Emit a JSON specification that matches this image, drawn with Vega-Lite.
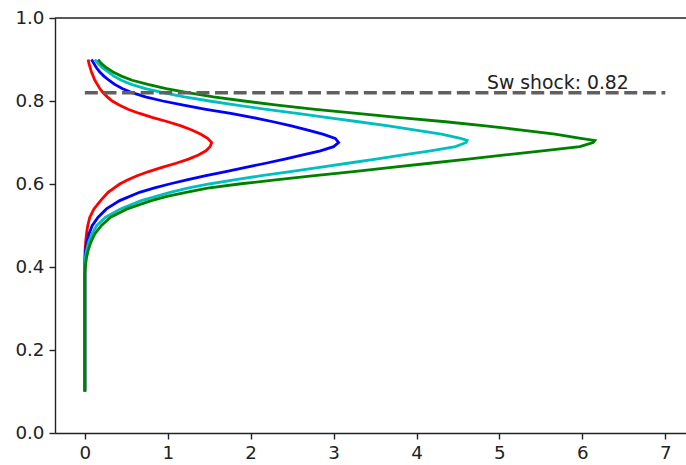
{
  "$schema": "https://vega.github.io/schema/vega-lite/v6.json",
  "width": 631,
  "height": 415,
  "autosize": {"type": "none"},
  "padding": {"left": 55, "top": 18, "right": 0, "bottom": 32},
  "background": "white",
  "config": {
    "view": {"stroke": null},
    "font": "DejaVu Sans",
    "axis": {
      "grid": false,
      "title": null,
      "domainColor": "#222222",
      "domainWidth": 1.4,
      "tickColor": "#222222",
      "tickWidth": 1.4,
      "tickSize": 6,
      "labelPadding": 5,
      "labelFont": "DejaVu Sans",
      "labelFontSize": 18.3,
      "labelColor": "#222222"
    }
  },
  "datasets": {
    "curves": [
      {"s": "red", "sw": 0.10, "v": 0}, {"s": "red", "sw": 0.40, "v": 0}, {"s": "red", "sw": 0.42, "v": 0.001},
      {"s": "red", "sw": 0.44, "v": 0.003}, {"s": "red", "sw": 0.46, "v": 0.01}, {"s": "red", "sw": 0.48, "v": 0.02},
      {"s": "red", "sw": 0.50, "v": 0.035}, {"s": "red", "sw": 0.52, "v": 0.06}, {"s": "red", "sw": 0.54, "v": 0.11},
      {"s": "red", "sw": 0.56, "v": 0.19}, {"s": "red", "sw": 0.58, "v": 0.28}, {"s": "red", "sw": 0.60, "v": 0.42},
      {"s": "red", "sw": 0.61, "v": 0.52}, {"s": "red", "sw": 0.62, "v": 0.63}, {"s": "red", "sw": 0.63, "v": 0.77},
      {"s": "red", "sw": 0.64, "v": 0.93}, {"s": "red", "sw": 0.65, "v": 1.10}, {"s": "red", "sw": 0.66, "v": 1.25},
      {"s": "red", "sw": 0.67, "v": 1.37}, {"s": "red", "sw": 0.68, "v": 1.46}, {"s": "red", "sw": 0.69, "v": 1.51},
      {"s": "red", "sw": 0.70, "v": 1.53}, {"s": "red", "sw": 0.71, "v": 1.48}, {"s": "red", "sw": 0.72, "v": 1.40},
      {"s": "red", "sw": 0.73, "v": 1.29}, {"s": "red", "sw": 0.74, "v": 1.16}, {"s": "red", "sw": 0.75, "v": 1.00},
      {"s": "red", "sw": 0.76, "v": 0.82}, {"s": "red", "sw": 0.77, "v": 0.66}, {"s": "red", "sw": 0.78, "v": 0.52},
      {"s": "red", "sw": 0.79, "v": 0.42}, {"s": "red", "sw": 0.80, "v": 0.33}, {"s": "red", "sw": 0.81, "v": 0.27},
      {"s": "red", "sw": 0.82, "v": 0.22}, {"s": "red", "sw": 0.83, "v": 0.18}, {"s": "red", "sw": 0.84, "v": 0.15},
      {"s": "red", "sw": 0.85, "v": 0.12}, {"s": "red", "sw": 0.86, "v": 0.10}, {"s": "red", "sw": 0.87, "v": 0.08},
      {"s": "red", "sw": 0.88, "v": 0.065}, {"s": "red", "sw": 0.89, "v": 0.05}, {"s": "red", "sw": 0.90, "v": 0.04},

      {"s": "blue", "sw": 0.10, "v": 0}, {"s": "blue", "sw": 0.40, "v": 0}, {"s": "blue", "sw": 0.42, "v": 0.002},
      {"s": "blue", "sw": 0.44, "v": 0.008}, {"s": "blue", "sw": 0.46, "v": 0.025}, {"s": "blue", "sw": 0.48, "v": 0.05},
      {"s": "blue", "sw": 0.50, "v": 0.09}, {"s": "blue", "sw": 0.52, "v": 0.16}, {"s": "blue", "sw": 0.54, "v": 0.26},
      {"s": "blue", "sw": 0.56, "v": 0.42}, {"s": "blue", "sw": 0.58, "v": 0.66}, {"s": "blue", "sw": 0.59, "v": 0.83},
      {"s": "blue", "sw": 0.60, "v": 1.02}, {"s": "blue", "sw": 0.61, "v": 1.23}, {"s": "blue", "sw": 0.62, "v": 1.46},
      {"s": "blue", "sw": 0.63, "v": 1.70}, {"s": "blue", "sw": 0.64, "v": 1.94}, {"s": "blue", "sw": 0.65, "v": 2.18},
      {"s": "blue", "sw": 0.66, "v": 2.41}, {"s": "blue", "sw": 0.67, "v": 2.63}, {"s": "blue", "sw": 0.68, "v": 2.84},
      {"s": "blue", "sw": 0.69, "v": 3.00}, {"s": "blue", "sw": 0.70, "v": 3.06}, {"s": "blue", "sw": 0.71, "v": 3.02},
      {"s": "blue", "sw": 0.72, "v": 2.87}, {"s": "blue", "sw": 0.73, "v": 2.69}, {"s": "blue", "sw": 0.74, "v": 2.49},
      {"s": "blue", "sw": 0.75, "v": 2.27}, {"s": "blue", "sw": 0.76, "v": 2.03}, {"s": "blue", "sw": 0.77, "v": 1.76},
      {"s": "blue", "sw": 0.78, "v": 1.46}, {"s": "blue", "sw": 0.79, "v": 1.19}, {"s": "blue", "sw": 0.80, "v": 0.94},
      {"s": "blue", "sw": 0.81, "v": 0.73}, {"s": "blue", "sw": 0.82, "v": 0.57}, {"s": "blue", "sw": 0.83, "v": 0.45},
      {"s": "blue", "sw": 0.84, "v": 0.36}, {"s": "blue", "sw": 0.85, "v": 0.29}, {"s": "blue", "sw": 0.86, "v": 0.23},
      {"s": "blue", "sw": 0.87, "v": 0.18}, {"s": "blue", "sw": 0.88, "v": 0.14}, {"s": "blue", "sw": 0.89, "v": 0.11},
      {"s": "blue", "sw": 0.90, "v": 0.08},

      {"s": "cyan", "sw": 0.10, "v": 0}, {"s": "cyan", "sw": 0.40, "v": 0}, {"s": "cyan", "sw": 0.42, "v": 0.005},
      {"s": "cyan", "sw": 0.44, "v": 0.02}, {"s": "cyan", "sw": 0.46, "v": 0.045}, {"s": "cyan", "sw": 0.48, "v": 0.085},
      {"s": "cyan", "sw": 0.50, "v": 0.145}, {"s": "cyan", "sw": 0.52, "v": 0.25}, {"s": "cyan", "sw": 0.54, "v": 0.43},
      {"s": "cyan", "sw": 0.56, "v": 0.68}, {"s": "cyan", "sw": 0.58, "v": 1.03}, {"s": "cyan", "sw": 0.59, "v": 1.24},
      {"s": "cyan", "sw": 0.60, "v": 1.50}, {"s": "cyan", "sw": 0.61, "v": 1.80}, {"s": "cyan", "sw": 0.62, "v": 2.13},
      {"s": "cyan", "sw": 0.63, "v": 2.48}, {"s": "cyan", "sw": 0.64, "v": 2.83}, {"s": "cyan", "sw": 0.65, "v": 3.17},
      {"s": "cyan", "sw": 0.66, "v": 3.51}, {"s": "cyan", "sw": 0.67, "v": 3.84}, {"s": "cyan", "sw": 0.68, "v": 4.17},
      {"s": "cyan", "sw": 0.69, "v": 4.47}, {"s": "cyan", "sw": 0.70, "v": 4.60}, {"s": "cyan", "sw": 0.705, "v": 4.61},
      {"s": "cyan", "sw": 0.71, "v": 4.53}, {"s": "cyan", "sw": 0.72, "v": 4.30}, {"s": "cyan", "sw": 0.73, "v": 3.99},
      {"s": "cyan", "sw": 0.74, "v": 3.66}, {"s": "cyan", "sw": 0.75, "v": 3.30}, {"s": "cyan", "sw": 0.76, "v": 2.93},
      {"s": "cyan", "sw": 0.77, "v": 2.56}, {"s": "cyan", "sw": 0.78, "v": 2.19}, {"s": "cyan", "sw": 0.79, "v": 1.83},
      {"s": "cyan", "sw": 0.80, "v": 1.50}, {"s": "cyan", "sw": 0.81, "v": 1.20}, {"s": "cyan", "sw": 0.82, "v": 0.94},
      {"s": "cyan", "sw": 0.83, "v": 0.73}, {"s": "cyan", "sw": 0.84, "v": 0.56}, {"s": "cyan", "sw": 0.85, "v": 0.44},
      {"s": "cyan", "sw": 0.86, "v": 0.35}, {"s": "cyan", "sw": 0.87, "v": 0.28}, {"s": "cyan", "sw": 0.88, "v": 0.21},
      {"s": "cyan", "sw": 0.89, "v": 0.16}, {"s": "cyan", "sw": 0.90, "v": 0.12},

      {"s": "green", "sw": 0.10, "v": 0}, {"s": "green", "sw": 0.38, "v": 0}, {"s": "green", "sw": 0.40, "v": 0.005},
      {"s": "green", "sw": 0.42, "v": 0.018}, {"s": "green", "sw": 0.44, "v": 0.04}, {"s": "green", "sw": 0.46, "v": 0.073},
      {"s": "green", "sw": 0.48, "v": 0.12}, {"s": "green", "sw": 0.50, "v": 0.20}, {"s": "green", "sw": 0.52, "v": 0.31},
      {"s": "green", "sw": 0.54, "v": 0.51}, {"s": "green", "sw": 0.56, "v": 0.80}, {"s": "green", "sw": 0.57, "v": 0.99},
      {"s": "green", "sw": 0.58, "v": 1.22}, {"s": "green", "sw": 0.59, "v": 1.48}, {"s": "green", "sw": 0.60, "v": 1.86},
      {"s": "green", "sw": 0.61, "v": 2.30}, {"s": "green", "sw": 0.62, "v": 2.77}, {"s": "green", "sw": 0.63, "v": 3.24},
      {"s": "green", "sw": 0.64, "v": 3.70}, {"s": "green", "sw": 0.65, "v": 4.16}, {"s": "green", "sw": 0.66, "v": 4.62},
      {"s": "green", "sw": 0.67, "v": 5.07}, {"s": "green", "sw": 0.68, "v": 5.52}, {"s": "green", "sw": 0.69, "v": 5.97},
      {"s": "green", "sw": 0.70, "v": 6.13}, {"s": "green", "sw": 0.705, "v": 6.15}, {"s": "green", "sw": 0.71, "v": 5.98},
      {"s": "green", "sw": 0.72, "v": 5.67}, {"s": "green", "sw": 0.73, "v": 5.27}, {"s": "green", "sw": 0.74, "v": 4.83},
      {"s": "green", "sw": 0.75, "v": 4.35}, {"s": "green", "sw": 0.76, "v": 3.80}, {"s": "green", "sw": 0.77, "v": 3.28},
      {"s": "green", "sw": 0.78, "v": 2.78}, {"s": "green", "sw": 0.79, "v": 2.32}, {"s": "green", "sw": 0.80, "v": 1.92},
      {"s": "green", "sw": 0.81, "v": 1.55}, {"s": "green", "sw": 0.82, "v": 1.24}, {"s": "green", "sw": 0.83, "v": 0.98},
      {"s": "green", "sw": 0.84, "v": 0.76}, {"s": "green", "sw": 0.85, "v": 0.57}, {"s": "green", "sw": 0.86, "v": 0.44},
      {"s": "green", "sw": 0.87, "v": 0.34}, {"s": "green", "sw": 0.88, "v": 0.26}, {"s": "green", "sw": 0.89, "v": 0.20},
      {"s": "green", "sw": 0.90, "v": 0.16}
    ]
  },
  "encoding": {
    "x": {
      "type": "quantitative",
      "scale": {"domain": [-0.36, 7.25], "nice": false, "zero": false},
      "axis": {"values": [0, 1, 2, 3, 4, 5, 6, 7], "format": "d"}
    },
    "y": {
      "type": "quantitative",
      "scale": {"domain": [0, 1], "nice": false},
      "axis": {"values": [0, 0.2, 0.4, 0.6, 0.8, 1.0], "format": ".1f"}
    }
  },
  "layer": [
    {
      "data": {"values": [{"top": 1}]},
      "mark": {"type": "rule", "color": "#222222", "strokeWidth": 1.4},
      "encoding": {
        "y": {"field": "top"}
      }
    },
    {
      "data": {"name": "curves"},
      "transform": [{"filter": "datum.s == 'red'"}],
      "mark": {"type": "line", "color": "#ff0000", "strokeWidth": 2.8},
      "encoding": {
        "x": {"field": "v"},
        "y": {"field": "sw"},
        "order": {"field": "sw", "type": "quantitative"}
      }
    },
    {
      "data": {"name": "curves"},
      "transform": [{"filter": "datum.s == 'blue'"}],
      "mark": {"type": "line", "color": "#0000ff", "strokeWidth": 2.8},
      "encoding": {
        "x": {"field": "v"},
        "y": {"field": "sw"},
        "order": {"field": "sw", "type": "quantitative"}
      }
    },
    {
      "data": {"name": "curves"},
      "transform": [{"filter": "datum.s == 'cyan'"}],
      "mark": {"type": "line", "color": "#00bfbf", "strokeWidth": 2.8},
      "encoding": {
        "x": {"field": "v"},
        "y": {"field": "sw"},
        "order": {"field": "sw", "type": "quantitative"}
      }
    },
    {
      "data": {"name": "curves"},
      "transform": [{"filter": "datum.s == 'green'"}],
      "mark": {"type": "line", "color": "#008000", "strokeWidth": 2.8},
      "encoding": {
        "x": {"field": "v"},
        "y": {"field": "sw"},
        "order": {"field": "sw", "type": "quantitative"}
      }
    },
    {
      "data": {"values": [{"x0": 0, "x1": 7, "y": 0.82}]},
      "mark": {"type": "rule", "color": "#606060", "strokeWidth": 3.4, "strokeDash": [13, 5.6]},
      "encoding": {
        "x": {"field": "x0"},
        "x2": {"field": "x1"},
        "y": {"field": "y"}
      }
    },
    {
      "data": {"values": [{"x": 4.85, "y": 0.828, "label": "Sw shock: 0.82"}]},
      "mark": {"type": "text", "align": "left", "baseline": "alphabetic", "font": "DejaVu Sans", "fontSize": 18.8, "color": "#222222"},
      "encoding": {
        "x": {"field": "x"},
        "y": {"field": "y"},
        "text": {"field": "label"}
      }
    }
  ]
}
